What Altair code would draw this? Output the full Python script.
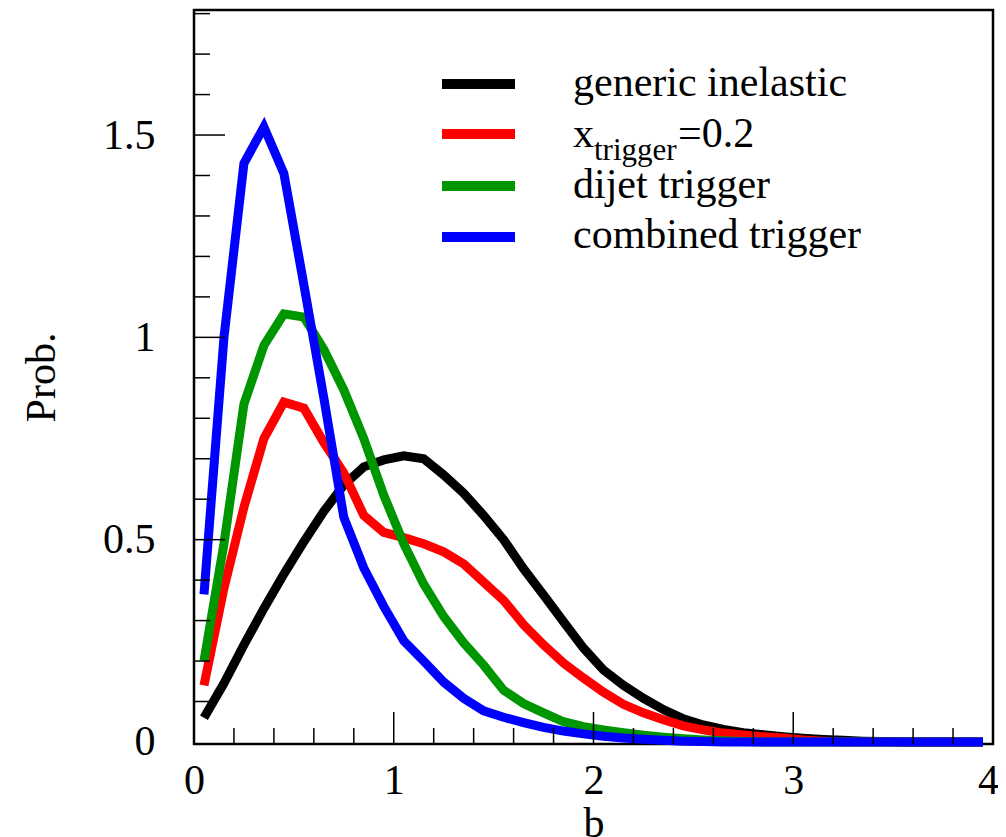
import altair as alt
import pandas as pd

# ---------------- data ----------------
b = [0.05, 0.15, 0.25, 0.35, 0.45, 0.55, 0.65, 0.75, 0.85, 0.95,
     1.05, 1.15, 1.25, 1.35, 1.45, 1.55, 1.65, 1.75, 1.85, 1.95,
     2.05, 2.15, 2.25, 2.35, 2.45, 2.55, 2.65, 2.75, 2.85, 2.95,
     3.05, 3.15, 3.25, 3.35, 3.45, 3.55, 3.65, 3.75, 3.85, 3.95]

generic = [0.06, 0.145, 0.24, 0.33, 0.415, 0.495, 0.57, 0.635, 0.68, 0.697,
           0.707, 0.70, 0.66, 0.615, 0.56, 0.50, 0.428, 0.363, 0.297, 0.232,
           0.178, 0.14, 0.108, 0.08, 0.057, 0.042, 0.031, 0.023, 0.018, 0.013,
           0.009, 0.006, 0.004, 0.002, 0.001, 0.0, 0.0, 0.0, 0.0, 0.0]

xtrig = [0.14, 0.38, 0.58, 0.75, 0.84, 0.825, 0.74, 0.665, 0.56, 0.518,
         0.505, 0.49, 0.47, 0.44, 0.395, 0.35, 0.29, 0.24, 0.195, 0.158,
         0.123, 0.093, 0.072, 0.055, 0.04, 0.03, 0.022, 0.017, 0.013, 0.01,
         0.005, 0.002, 0.0, 0.0, 0.0, 0.0, 0.0, 0.0, 0.0, 0.0]

dijet = [0.2, 0.49, 0.835, 0.98, 1.058, 1.05, 0.97, 0.87, 0.75, 0.61,
         0.49, 0.39, 0.31, 0.245, 0.19, 0.128, 0.095, 0.072, 0.05, 0.038,
         0.03, 0.023, 0.017, 0.012, 0.008, 0.005, 0.003, 0.001, 0.0, 0.0,
         0.0, 0.0, 0.0, 0.0, 0.0, 0.0, 0.0, 0.0, 0.0, 0.0]

combined = [0.365, 1.0, 1.43, 1.52, 1.405, 1.13, 0.85, 0.555, 0.43, 0.335,
            0.25, 0.2, 0.148, 0.108, 0.077, 0.061, 0.048, 0.036, 0.027, 0.02,
            0.014, 0.01, 0.007, 0.004, 0.002, 0.001, 0.0, 0.0, 0.0, 0.0,
            0.0, 0.0, 0.0, 0.0, 0.0, 0.0, 0.0, 0.0, 0.0, 0.0]

series_names = ["generic inelastic", "x_trigger=0.2", "dijet trigger", "combined trigger"]
series_values = [generic, xtrig, dijet, combined]
series_colors = ["#000000", "#ff0000", "#009600", "#0000ff"]

x_major = [0, 1, 2, 3, 4]
x_minor = [0.2, 0.4, 0.6, 0.8, 1.2, 1.4, 1.6, 1.8, 2.2, 2.4, 2.6, 2.8,
           3.2, 3.4, 3.6, 3.8]
y_major = [0, 0.5, 1, 1.5]
y_minor = [0.1, 0.2, 0.3, 0.4, 0.6, 0.7, 0.8, 0.9, 1.1, 1.2, 1.3, 1.4,
           1.6, 1.7, 1.8]

# ---------------- layout ----------------
W, H = 799, 734
FONT = "Liberation Serif"
FS = 42
LW = 9

xs = alt.Scale(domain=[0, 4], nice=False, zero=False)
ys = alt.Scale(domain=[-0.005, 1.809], nice=False, zero=False)

x_axis = alt.Axis(values=x_major, format="d", ticks=False, tickSize=0, domain=False, grid=False,
                  labelFont=FONT, labelFontSize=FS, labelColor="black",
                  labelPadding=49, labelBaseline="alphabetic", labelFlush=False,
                  labelOverlap=False, labelBound=False,
                  labelOffset={"condition": {"test": "datum.value >= 4", "value": -5}, "value": 0},
                  title="b", titleFont=FONT, titleFontSize=FS, titleFontWeight="normal",
                  titleColor="black", titleBaseline="alphabetic", titleY=92)
y_axis = alt.Axis(values=y_major, format="~g", ticks=False, tickSize=0, domain=False, grid=False,
                  labelFont=FONT, labelFontSize=FS, labelColor="black",
                  labelPadding=39, labelBaseline="middle", labelFlush=False,
                  labelOverlap=False, labelBound=False,
                  title="Prob.", titleFont=FONT, titleFontSize=FS, titleFontWeight="normal",
                  titleColor="black", titleBaseline="alphabetic", titleAngle=270,
                  titleX=-140, titleY=367, titleAlign="center")

layers = []

# curves (drawn black, red, green, blue so blue ends on top)
for name, vals, col in zip(series_names, series_values, series_colors):
    d = pd.DataFrame({"b": b, "p": vals, "series": name})
    layers.append(
        alt.Chart(d).mark_line(color=col, strokeWidth=LW, strokeJoin="miter",
                               strokeMiterLimit=10).encode(
            x=alt.X("b:Q", scale=xs, axis=x_axis),
            y=alt.Y("p:Q", scale=ys, axis=y_axis),
        )
    )

# inward ticks
def xticks(vals, length):
    return alt.Chart(pd.DataFrame({"b": vals})).mark_rule(color="black", strokeWidth=1.5).encode(
        x=alt.X("b:Q", scale=xs, axis=x_axis), y=alt.value(H), y2=alt.value(H - length))

def yticks(vals, length):
    return alt.Chart(pd.DataFrame({"p": vals})).mark_rule(color="black", strokeWidth=1.5).encode(
        y=alt.Y("p:Q", scale=ys, axis=y_axis), x=alt.value(0), x2=alt.value(length))

layers += [xticks(x_minor, 16), xticks(x_major[1:-1], 32),
           yticks(y_minor, 16), yticks(y_major[1:], 31)]

# legend
leg_line_y = [74, 124, 176, 227]
leg_text_y = [86, 137, 188, 238]
for name, col, ly, ty in zip(series_names, series_colors, leg_line_y, leg_text_y):
    layers.append(
        alt.Chart(pd.DataFrame({"s": [name]})).mark_rule(color=col, strokeWidth=10).encode(
            x=alt.value(248), x2=alt.value(321), y=alt.value(ly))
    )
    if name.startswith("x_"):
        parts = [("x", 379, ty, FS), ("trigger", 400, ty + 13, 31), ("=0.2", 484, ty, FS)]
    else:
        parts = [(name, 379, ty, FS)]
    for txt, px, py, fs in parts:
        layers.append(
            alt.Chart(pd.DataFrame({"t": [txt]})).mark_text(
                font=FONT, fontSize=fs, align="left", baseline="alphabetic", color="black").encode(
                text="t:N", x=alt.value(px), y=alt.value(py))
        )

chart = alt.layer(*layers).properties(
    width=W, height=H,
    autosize=alt.AutoSizeParams(type="none"),
    padding={"left": 186, "top": 2, "right": 5, "bottom": 95},
).configure_view(stroke="black", strokeWidth=2.5)

chart.save("out.html", embed_options={"renderer": "svg", "actions": False})
